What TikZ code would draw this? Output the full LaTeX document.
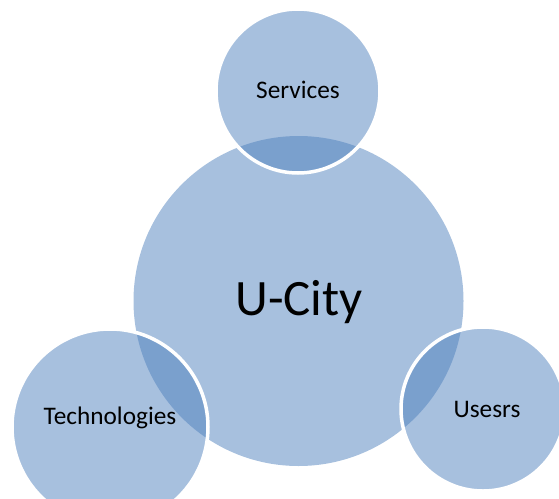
\documentclass[tikz,border=0pt]{standalone}
\usepackage{fontspec}
\setmainfont{Carlito}
\definecolor{accent}{HTML}{4F81BD}
\begin{document}
\begin{tikzpicture}[x=1pt,y=-1pt,
  bubble/.style={circle, inner sep=0pt, fill=accent, fill opacity=0.5},
  satellite/.style={bubble, draw=white, draw opacity=1, line width=3.5pt},
  caption/.style={anchor=base, inner sep=0pt, text=black, font=\fontsize{25.3}{30}\selectfont},
]
\useasboundingbox (0,0) rectangle (559,498);
\clip (0,0) rectangle (559,498);
% central hub
\node[bubble, minimum size=330pt] (hub) at (298.5,301) {};
% satellites around the hub
\node[satellite, minimum size=164pt] (services) at (298,91) {};
\node[satellite, minimum size=196pt] (tech) at (110,427) {};
\node[satellite, minimum size=164pt] (users) at (483,409) {};
% labels
\node[caption, font=\fontsize{51}{61}\selectfont] (hubtext) at (299,315) {U-City};
\node[caption] (servicestext) at (298,98) {Services};
\node[caption] (techtext) at (110,424) {Technologies};
\node[caption] (userstext) at (487,417) {Usesrs};
\end{tikzpicture}
\end{document}
